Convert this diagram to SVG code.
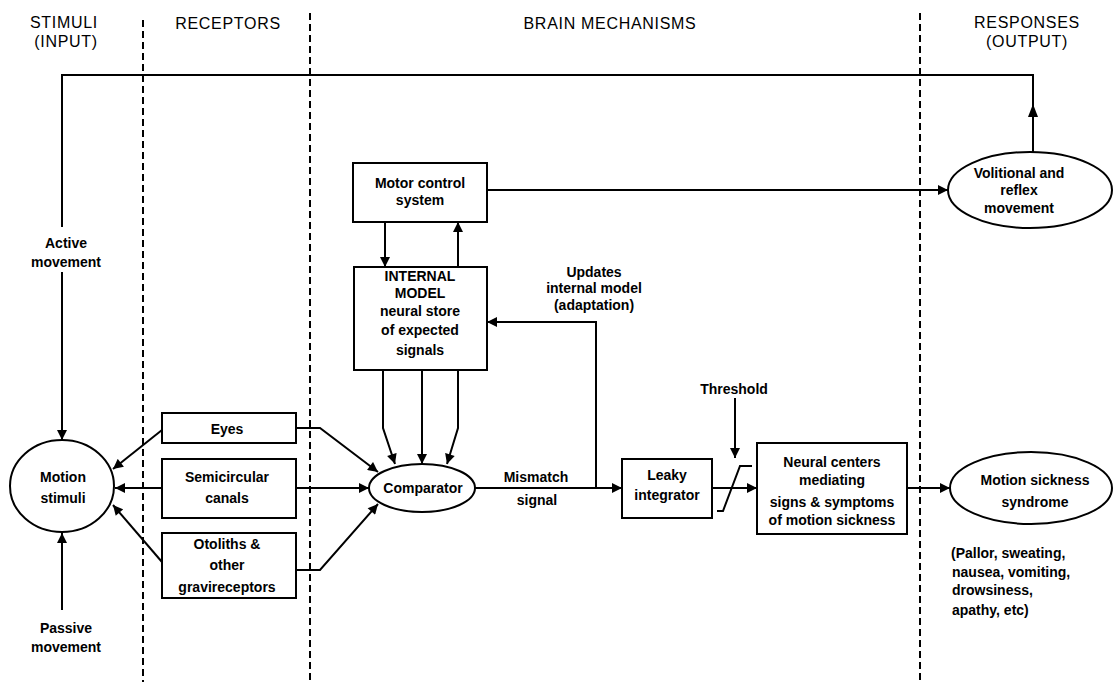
<svg xmlns="http://www.w3.org/2000/svg" width="1114" height="682" viewBox="0 0 1114 682">
<style>
  text { font-family: "Liberation Sans", Arial, sans-serif; fill: #000; }
  .hd { font-size: 16px; letter-spacing: 0.7px; text-anchor: middle; }
  .lb { font-size: 14px; font-weight: bold; text-anchor: middle; }
  .ll { font-size: 14px; font-weight: bold; text-anchor: start; }
  .box { fill: #fff; stroke: #000; stroke-width: 2; }
  .ln { fill: none; stroke: #000; stroke-width: 2; }
  .ar { fill: none; stroke: #000; stroke-width: 2; marker-end: url(#ah); }
  .dash { fill: none; stroke: #000; stroke-width: 2; stroke-dasharray: 7 4; }
</style>
<defs>
  <marker id="ah" viewBox="0 0 10 10" refX="10" refY="5" markerWidth="11" markerHeight="10" markerUnits="userSpaceOnUse" orient="auto">
    <path d="M0,0 L10,5 L0,10 z" fill="#000"/>
  </marker>
</defs>
<rect width="1114" height="682" fill="#fff"/>

<g id="headers">
  <text class="hd" x="64" y="28">STIMULI</text>
  <text class="hd" x="66" y="47">(INPUT)</text>
  <text class="hd" x="228" y="29">RECEPTORS</text>
  <text class="hd" x="610" y="29">BRAIN MECHANISMS</text>
  <text class="hd" x="1027" y="28">RESPONSES</text>
  <text class="hd" x="1027" y="47">(OUTPUT)</text>
</g>

<g id="dividers">
  <line class="dash" x1="143" y1="20" x2="143" y2="682"/>
  <line class="dash" x1="310" y1="13" x2="310" y2="682"/>
  <line class="dash" x1="920" y1="13" x2="920" y2="682"/>
</g>

<g id="connectors">
  <path class="ln" d="M1033,152 L1033,75 L62,75 L62,227"/>
  <polygon points="1033,104 1028,117 1038,117" fill="#000"/>
  <path class="ar" d="M62,272 L62,440"/>
  <path class="ar" d="M62,610 L62,533"/>
  <path class="ar" d="M162,430 L113,469"/>
  <path class="ar" d="M162,488 L115,488"/>
  <path class="ar" d="M162,562 L113,505"/>
  <path class="ar" d="M296,428 L320,428 L378,472"/>
  <path class="ar" d="M296,488 L369,488"/>
  <path class="ar" d="M296,570 L320,570 L378,504"/>
  <path class="ar" d="M383,370 L383,428 L395,464"/>
  <path class="ar" d="M422,370 L422,464"/>
  <path class="ar" d="M458,370 L458,428 L447,464"/>
  <path class="ar" d="M385,222 L385,267"/>
  <path class="ar" d="M458,267 L458,222"/>
  <path class="ar" d="M487,190 L948,190"/>
  <path class="ar" d="M475,488 L622,488"/>
  <path class="ar" d="M596,488 L596,322 L487,322"/>
  <path class="ar" d="M712,488 L757,488"/>
  <path class="ln" d="M717,511 L723,511 L740,466 L752,466"/>
  <path class="ar" d="M735,398 L735,458"/>
  <path class="ar" d="M907,488 L950,488"/>
</g>

<g id="label-active">
  <text class="lb" x="66" y="248">Active</text>
  <text class="lb" x="66" y="267">movement</text>
</g>
<g id="label-passive">
  <text class="lb" x="66" y="633">Passive</text>
  <text class="lb" x="66" y="652">movement</text>
</g>

<g id="motion-stimuli">
  <ellipse class="box" cx="62" cy="486" rx="52" ry="46"/>
  <text class="lb" x="63" y="482">Motion</text>
  <text class="lb" x="63" y="503">stimuli</text>
</g>

<g id="eyes">
  <rect class="box" x="162" y="413" width="134" height="30"/>
  <text class="lb" x="227" y="434">Eyes</text>
</g>
<g id="semicircular">
  <rect class="box" x="162" y="459" width="134" height="59"/>
  <text class="lb" x="227" y="482">Semicircular</text>
  <text class="lb" x="227" y="503">canals</text>
</g>
<g id="otoliths">
  <rect class="box" x="162" y="533" width="134" height="65"/>
  <text class="lb" x="227" y="549">Otoliths &amp;</text>
  <text class="lb" x="227" y="570">other</text>
  <text class="lb" x="227" y="592">gravireceptors</text>
</g>

<g id="comparator">
  <ellipse class="box" cx="422" cy="488" rx="53" ry="24"/>
  <text class="lb" x="423" y="493">Comparator</text>
</g>

<g id="motor-control">
  <rect class="box" x="353" y="163" width="134" height="59"/>
  <text class="lb" x="420" y="188">Motor control</text>
  <text class="lb" x="420" y="205">system</text>
</g>

<g id="internal-model">
  <rect class="box" x="354" y="267" width="133" height="103"/>
  <text class="lb" x="420" y="281">INTERNAL</text>
  <text class="lb" x="420" y="298">MODEL</text>
  <text class="lb" x="420" y="316">neural store</text>
  <text class="lb" x="420" y="335">of expected</text>
  <text class="lb" x="420" y="355">signals</text>
</g>

<g id="label-updates">
  <text class="lb" x="594" y="277">Updates</text>
  <text class="lb" x="594" y="293">internal model</text>
  <text class="lb" x="594" y="310">(adaptation)</text>
</g>

<g id="label-mismatch">
  <text class="lb" x="536" y="482">Mismatch</text>
  <text class="lb" x="537" y="505">signal</text>
</g>

<g id="leaky-integrator">
  <rect class="box" x="622" y="459" width="90" height="59"/>
  <text class="lb" x="667" y="480">Leaky</text>
  <text class="lb" x="667" y="500">integrator</text>
</g>

<g id="label-threshold">
  <text class="lb" x="734" y="394">Threshold</text>
</g>

<g id="neural-centers">
  <rect class="box" x="757" y="443" width="150" height="91"/>
  <text class="lb" x="832" y="467">Neural centers</text>
  <text class="lb" x="832" y="485">mediating</text>
  <text class="lb" x="832" y="507">signs &amp; symptoms</text>
  <text class="lb" x="832" y="525">of motion sickness</text>
</g>

<g id="motion-sickness">
  <ellipse class="box" cx="1031" cy="488" rx="81" ry="36"/>
  <text class="lb" x="1035" y="485">Motion sickness</text>
  <text class="lb" x="1035" y="507">syndrome</text>
</g>

<g id="symptoms">
  <text class="ll" x="951" y="558">(Pallor, sweating,</text>
  <text class="ll" x="952" y="577">nausea, vomiting,</text>
  <text class="ll" x="952" y="595">drowsiness,</text>
  <text class="ll" x="952" y="615">apathy, etc)</text>
</g>

<g id="volitional">
  <ellipse class="box" cx="1030" cy="190" rx="82" ry="38"/>
  <text class="lb" x="1019" y="178">Volitional and</text>
  <text class="lb" x="1019" y="195">reflex</text>
  <text class="lb" x="1019" y="213">movement</text>
</g>
</svg>
